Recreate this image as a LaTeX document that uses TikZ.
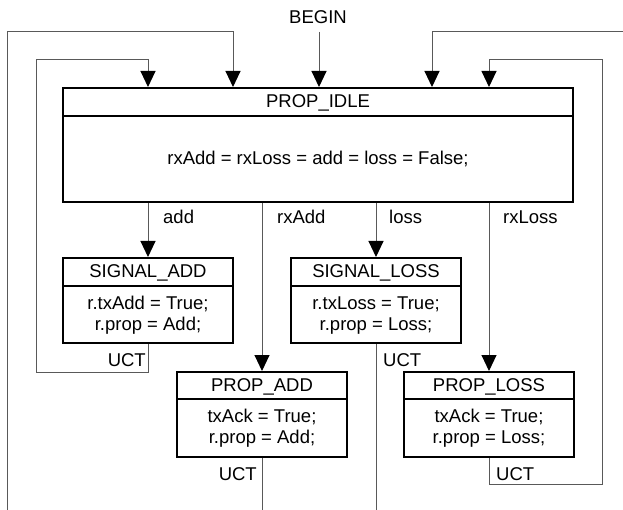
\documentclass[tikz,border=0pt]{standalone}
\usepackage{fontspec}
\setmainfont{Liberation Sans}
\usetikzlibrary{arrows.meta}
\begin{document}
\begin{tikzpicture}[x=1pt,y=-1pt,
  box/.style={draw=black, line width=2pt, inner sep=0pt},
  divline/.style={draw=black, line width=2pt},
  lbl/.style={font=\fontsize{18.5}{21}\selectfont, inner sep=0pt},
  conn/.style={draw=black!65, line width=1pt},
  arr/.style={conn, -{Triangle[width=15pt,length=16pt,fill=black,color=black]}},
]
\useasboundingbox (0,0) rectangle (623,510);

% ---- states ----
\node[box, minimum width=510pt, minimum height=114pt] (idle) at (318,145) {};
\draw[divline] ([yshift=-29pt]idle.north west) -- ([yshift=-29pt]idle.north east);
\node[lbl, anchor=base] (idleT) at ([yshift=-20.5pt]idle.north) {PROP\_IDLE};
\node[lbl, anchor=base] (idleB) at ([yshift=-78pt]idle.north) {rxAdd = rxLoss = add = loss = False;};

\node[box, minimum width=170pt, minimum height=85pt] (sa) at (148,300.5) {};
\draw[divline] ([yshift=-29pt]sa.north west) -- ([yshift=-29pt]sa.north east);
\node[lbl, anchor=base] (saT) at ([yshift=-20.5pt]sa.north) {SIGNAL\_ADD};
\node[lbl, anchor=base] (saB1) at ([yshift=-52pt]sa.north) {r.txAdd = True;};
\node[lbl, anchor=base] (saB2) at ([yshift=-73pt]sa.north) {r.prop = Add;};

\node[box, minimum width=170pt, minimum height=85pt] (sl) at (376,300.5) {};
\draw[divline] ([yshift=-29pt]sl.north west) -- ([yshift=-29pt]sl.north east);
\node[lbl, anchor=base] (slT) at ([yshift=-20.5pt]sl.north) {SIGNAL\_LOSS};
\node[lbl, anchor=base] (slB1) at ([yshift=-52pt]sl.north) {r.txLoss = True;};
\node[lbl, anchor=base] (slB2) at ([yshift=-73pt]sl.north) {r.prop = Loss;};

\node[box, minimum width=170pt, minimum height=85pt] (pa) at (262,414.5) {};
\draw[divline] ([yshift=-28pt]pa.north west) -- ([yshift=-28pt]pa.north east);
\node[lbl, anchor=base] (paT) at ([yshift=-20.5pt]pa.north) {PROP\_ADD};
\node[lbl, anchor=base] (paB1) at ([yshift=-51pt]pa.north) {txAck = True;};
\node[lbl, anchor=base] (paB2) at ([yshift=-72pt]pa.north) {r.prop = Add;};

\node[box, minimum width=170pt, minimum height=85pt] (pl) at (489,414.5) {};
\draw[divline] ([yshift=-28pt]pl.north west) -- ([yshift=-28pt]pl.north east);
\node[lbl, anchor=base] (plT) at ([yshift=-20.5pt]pl.north) {PROP\_LOSS};
\node[lbl, anchor=base] (plB1) at ([yshift=-51pt]pl.north) {txAck = True;};
\node[lbl, anchor=base] (plB2) at ([yshift=-72pt]pl.north) {r.prop = Loss;};

% ---- helper coordinates (free ends and corners) ----
\coordinate (b0) at (319,32);
\coordinate (ol0) at (7,510);
\coordinate (ol1) at (7,32);
\coordinate (ol2) at (233,32);
\coordinate (or0) at (623,32);
\coordinate (or1) at (432,32);
\coordinate (l0) at (36,372);
\coordinate (l1) at (36,60);
\coordinate (r0) at (602,484);
\coordinate (r1) at (602,60);
\coordinate (bot) at (0,510);

% ---- connectors ----
\node[lbl, anchor=base] (begin) at (318,23.3) {BEGIN};
\draw[arr] (b0) -- (idle.north -| b0);
\draw[arr] (ol0) -- (ol1) -| (idle.north -| ol2);
\draw[arr] (or0) -- (or1) -- (idle.north -| or1);
\draw[arr] (sa.south) |- (l0) -- (l1) -| (idle.north -| sa.north);
\draw[arr] (pl.south) |- (r0) -- (r1) -| (idle.north -| pl.north);

\draw[arr] (idle.south -| sa.north) -- (sa.north);
\draw[arr] (idle.south -| pa.north) -- (pa.north);
\draw[arr] (idle.south -| sl.north) -- (sl.north);
\draw[arr] (idle.south -| pl.north) -- (pl.north);

\draw[conn] (pa.south) -- (pa.south |- bot);
\draw[conn] (sl.south) -- (sl.south |- bot);

% ---- labels ----
\node[lbl, anchor=base west] (ladd) at (163,224) {add};
\node[lbl, anchor=base west] (lrxadd) at (277,224) {rxAdd};
\node[lbl, anchor=base west] (lloss) at (389,224) {loss};
\node[lbl, anchor=base west] (lrxloss) at (503,224) {rxLoss};
\node[lbl, anchor=base east] (u1) at (146,366) {UCT};
\node[lbl, anchor=base east] (u2) at (257,480) {UCT};
\node[lbl, anchor=base west] (u3) at (383,366.5) {UCT};
\node[lbl, anchor=base west] (u4) at (496,480) {UCT};
\end{tikzpicture}
\end{document}
